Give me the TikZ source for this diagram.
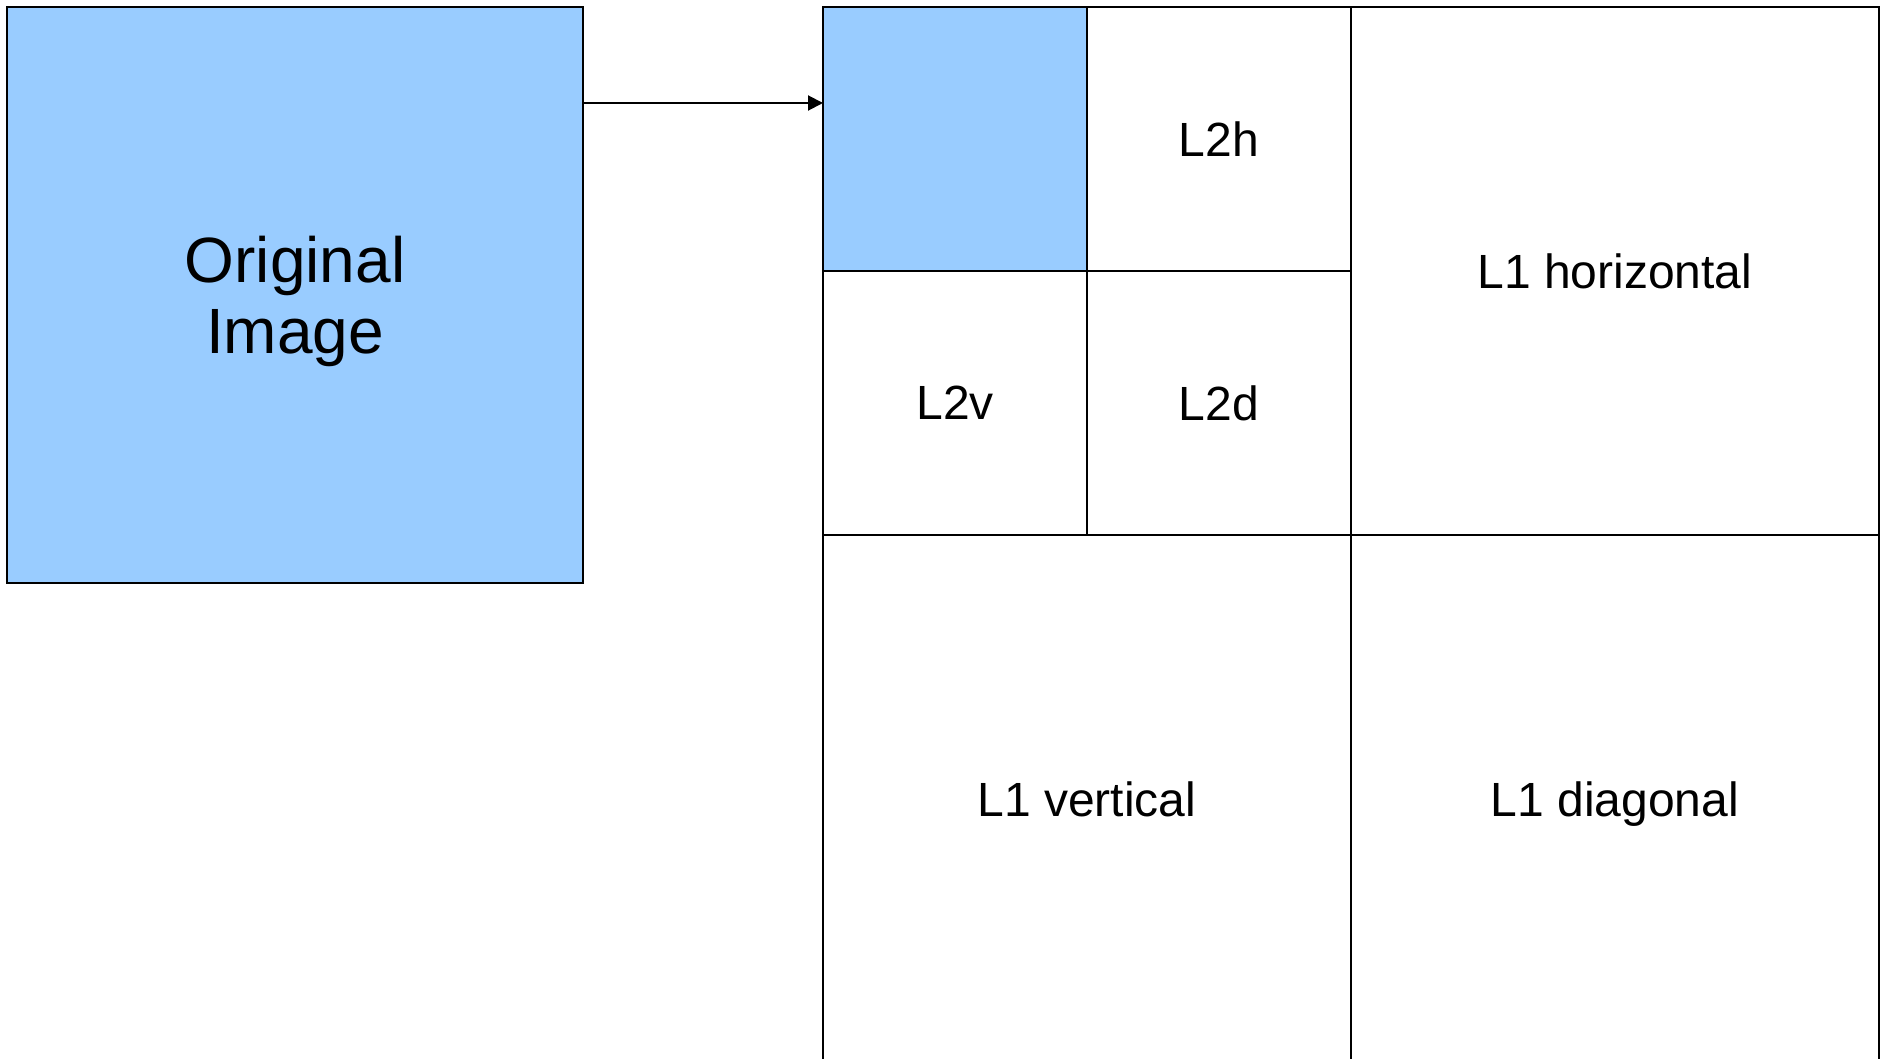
\documentclass[tikz,border=0pt]{standalone}
\usepackage{fontspec}
\setmainfont{Liberation Sans}
\usetikzlibrary{arrows.meta}
\definecolor{imgblue}{HTML}{99CCFF}
\tikzset{
  cell/.style={draw=black, line width=2pt, rectangle, anchor=north west,
    inner sep=0pt, outer sep=0pt, text depth=0pt, font=\fontsize{48}{52}\selectfont},
  small/.style={cell, minimum width=264pt, minimum height=264pt},
  big/.style={cell, minimum width=528pt, minimum height=528pt},
  link/.style={line width=2pt, -{Triangle[length=15pt,width=15pt]}}
}
\begin{document}
\begin{tikzpicture}[x=1pt, y=-1pt]
  \clip (0,0) rectangle (1885,1059);
  \fill[white] (0,0) rectangle (1885,1059);
  % input image
  \node[cell, fill=imgblue, minimum width=576pt, minimum height=576pt,
        align=center, font=\fontsize{64}{71}\selectfont] (orig) at (7,7) {Original\\Image};
  % two-level decomposition
  \node[small, fill=imgblue] (ll) at (823,7) {};
  \node[small] (lh2) at (1087,7) {L2h};
  \node[small] (hl2) at (823,271) {L2v};
  \node[small] (hh2) at (1087,271) {L2d};
  \node[big] (lh1) at (1351,7) {L1 horizontal};
  \node[big] (hl1) at (823,535) {L1 vertical};
  \node[big] (hh1) at (1351,535) {L1 diagonal};
  \draw[link] (orig.east |- 0,103) -- (ll.west |- 0,103);
\end{tikzpicture}
\end{document}
